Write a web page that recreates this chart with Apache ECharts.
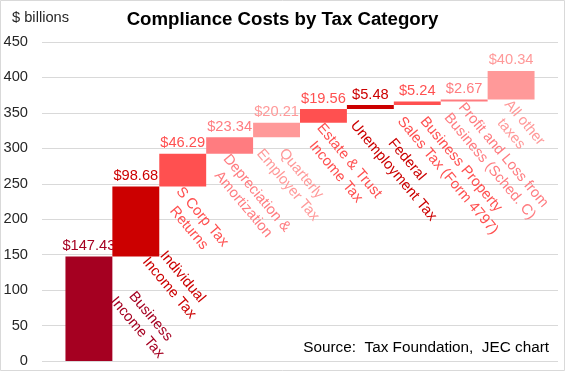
<!DOCTYPE html>
<html>
<head>
<meta charset="utf-8">
<script src="https://cdn.jsdelivr.net/npm/echarts@6/dist/echarts.min.js"></script>
<style>
html,body{margin:0;padding:0;background:#fff;}
#chart{width:565px;height:371px;}
</style>
</head>
<body>
<div id="chart"></div>
<script>
// ---- data ----
const categories = [
  'Business\nIncome Tax',
  'Individual\nIncome Tax',
  'S Corp Tax\nReturns',
  'Depreciation &\nAmortization',
  'Quarterly\nEmployer Tax',
  'Estate & Trust\nIncome Tax',
  'Federal\nUnemployment Tax',
  'Business Property\nSales Tax (Form 4797)',
  'Profit and Loss from\nBusiness (Sched. C)',
  'All other\ntaxes'
];
const values = [147.43, 98.68, 46.29, 23.34, 20.21, 19.56, 5.48, 5.24, 2.67, 40.34];
const yTicks = [0, 50, 100, 150, 200, 250, 300, 350, 400, 450];

// ---- styles ----
const barColors = ['#a50021', '#cc0000', '#ff5050', '#ff7c80', '#ff9999',
                   '#ff5050', '#cc0000', '#ff5050', '#ff7c80', '#ff9999'];
const FONT_FAMILY = '"Liberation Sans", Arial, sans-serif';
const FS = 14.67;
const LH = 17.5;
const ROT = 50 * Math.PI / 180;
// manually moved labels (center offset from bar center / bar bottom)
const manualLabel = {0: [55, -39], 1: [40, 26]};

const cnv = document.createElement('canvas').getContext('2d');
function textW(t) { cnv.font = FS + 'px ' + FONT_FAMILY; return cnv.measureText(t).width; }

const bases = [];
let acc = 0;
values.forEach(v => { bases.push(acc); acc += v; });
const seriesData = values.map((v, i) => [i + 1, bases[i], bases[i] + v, i]);

const chart = echarts.init(document.getElementById('chart'), null, {renderer: 'canvas'});
chart.setOption({
  animation: false,
  backgroundColor: '#fff',
  title: {
    text: 'Compliance Costs by Tax Category',
    left: 'center', top: 5,
    textStyle: {fontFamily: FONT_FAMILY, fontSize: 18.67, fontWeight: 'bold', color: '#000'}
  },
  graphic: [
    {type: 'rect', shape: {x: 0.5, y: 0.5, width: 564, height: 370},
     style: {fill: 'none', stroke: '#d9d9d9', lineWidth: 1}, silent: true, z: -1},
    {type: 'text', left: 12, top: 10,
     style: {text: '$ billions', fontFamily: FONT_FAMILY, fontSize: FS, fill: '#262626'}},
    {type: 'text', right: 16, top: 340,
     style: {text: 'Source:  Tax Foundation,  JEC chart', fontFamily: FONT_FAMILY, fontSize: 15.3, fill: '#000'}}
  ],
  grid: {left: 42, right: 7, top: 42, bottom: 10, containLabel: false},
  xAxis: {
    type: 'value', min: 0, max: 11, show: false
  },
  yAxis: {
    type: 'value', min: yTicks[0], max: yTicks[yTicks.length - 1], interval: 50,
    axisLine: {show: false}, axisTick: {show: false},
    axisLabel: {fontFamily: FONT_FAMILY, fontSize: FS, color: '#262626', margin: 14},
    splitLine: {lineStyle: {color: '#d9d9d9', width: 1}}
  },
  series: [{
    type: 'custom',
    clip: false,
    encode: {x: 0, y: [1, 2]},
    data: seriesData,
    renderItem: function (params, api) {
      const idx = api.value(3);
      const x = api.value(0);
      const pBot = api.coord([x, api.value(1)]);
      const pTop = api.coord([x, api.value(2)]);
      const w = api.size([1, 0])[0];
      const col = barColors[idx];
      const lines = categories[idx].split('\n');
      const tw = Math.max.apply(null, lines.map(textW));
      const th = lines.length * LH;
      const hw = (tw * Math.cos(ROT) + th * Math.sin(ROT)) / 2;
      const hh = (tw * Math.sin(ROT) + th * Math.cos(ROT)) / 2;
      let cx, cy;
      if (manualLabel[idx]) {
        cx = pBot[0] + manualLabel[idx][0];
        cy = pBot[1] + manualLabel[idx][1];
      } else {
        cx = pBot[0] - 24 + hw;
        cy = pBot[1] - 3 + hh;
      }
      return {
        type: 'group',
        children: [
          {type: 'rect',
           shape: {x: pBot[0] - w / 2, y: pTop[1], width: w, height: pBot[1] - pTop[1]},
           style: {fill: col}},
          {type: 'text', x: pBot[0], y: pTop[1] - 3,
           style: {text: '$' + values[idx].toFixed(2), fill: col,
                   font: FS + 'px ' + FONT_FAMILY,
                   align: 'center', verticalAlign: 'bottom',
                   textAlign: 'center', textVerticalAlign: 'bottom'}},
          {type: 'text', x: cx, y: cy, rotation: -ROT,
           style: {text: categories[idx], fill: col,
                   font: FS + 'px ' + FONT_FAMILY, lineHeight: LH,
                   align: 'center', verticalAlign: 'middle',
                   textAlign: 'center', textVerticalAlign: 'middle'}}
        ]
      };
    }
  }]
});
</script>
</body>
</html>
